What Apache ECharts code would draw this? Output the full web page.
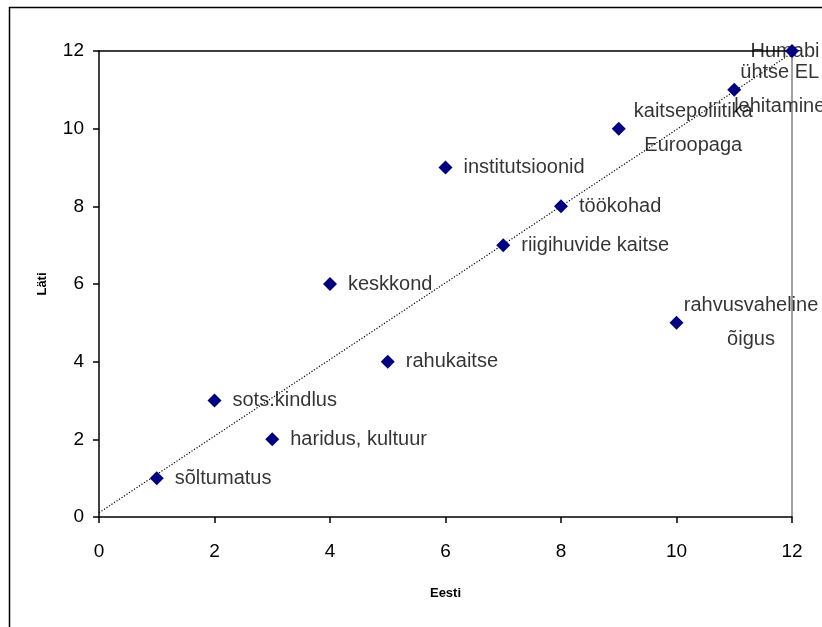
<!DOCTYPE html>
<html>
<head>
<meta charset="utf-8">
<script src="https://cdn.jsdelivr.net/npm/echarts@6/dist/echarts.min.js"></script>
<style>
html,body{margin:0;padding:0;background:#fff;}
#c{width:822px;height:627px;}
</style>
</head>
<body>
<div id="c"></div>
<script>
// ---- data ----
const categories = ['sõltumatus','sots.kindlus','haridus, kultuur','keskkond','rahukaitse','institutsioonid','riigihuvide kaitse','töökohad','kaitsepoliitika\nEuroopaga','rahvusvaheline\nõigus','ühtse EL\nlehitamine','Humabi'];
const eesti = [1,2,3,4,5,6,7,8,9,10,11,12];
const lati  = [1,3,2,6,4,9,7,8,10,5,11,12];
const trendX = [0,12];
const trendY = [0.11,11.95];
const xAxisTitle = 'Eesti';
const yAxisTitle = 'Läti';

// ---- styles (label placement per point) ----
const FONT = "'Liberation Sans', Arial, sans-serif";
const specialLabelPos = {
  8: [81.5, 7],
  9: [81.5, 7],
  10: [52.5, 7],
  11: [0, 7]
};

const labelData = eesti.map((x, i) => {
  const d = { value: [x, lati[i]], name: categories[i] };
  if (specialLabelPos[i]) {
    d.label = { position: specialLabelPos[i], align: 'center', verticalAlign: 'middle' };
  }
  return d;
});
const markerData = eesti.map((x, i) => [x, lati[i]]);
const trendData = trendX.map((x, i) => [x, trendY[i]]);

const chart = echarts.init(document.getElementById('c'), null, { renderer: 'canvas' });
chart.setOption({
  animation: false,
  backgroundColor: '#fff',
  grid: { left: 99, right: 30, top: 51, bottom: 110, containLabel: false },
  graphic: [{
    type: 'rect', silent: true, z: 0,
    shape: { x: 9.5, y: 7.5, width: 1000, height: 1000 },
    style: { fill: 'none', stroke: '#000', lineWidth: 1.5 }
  }],
  xAxis: [{
    type: 'value', min: 0, max: 12, interval: 2,
    name: xAxisTitle, nameLocation: 'middle', nameGap: 70,
    nameTextStyle: { fontFamily: FONT, fontSize: 13, fontWeight: 'bold', color: '#000' },
    axisLine: { show: true, onZero: false, lineStyle: { color: '#000', width: 1.5 } },
    axisTick: { show: true, inside: false, length: 6, lineStyle: { color: '#000', width: 1.5 } },
    axisLabel: { margin: 25, fontFamily: FONT, fontSize: 19, color: '#000' },
    splitLine: { show: false }
  }, {
    type: 'value', min: 0, max: 12, position: 'top',
    axisLine: { show: true, onZero: false, lineStyle: { color: '#000', width: 1.5 } },
    axisTick: { show: false }, axisLabel: { show: false }, splitLine: { show: false }
  }],
  yAxis: [{
    type: 'value', min: 0, max: 12, interval: 2,
    name: yAxisTitle, nameLocation: 'middle', nameGap: 50, nameRotate: 90,
    nameTextStyle: { fontFamily: FONT, fontSize: 13, fontWeight: 'bold', color: '#000' },
    axisLine: { show: true, onZero: false, lineStyle: { color: '#000', width: 1.5 } },
    axisTick: { show: true, inside: false, length: 6, lineStyle: { color: '#000', width: 1.5 } },
    axisLabel: { margin: 15, fontFamily: FONT, fontSize: 19, color: '#000' },
    splitLine: { show: false }
  }, {
    type: 'value', min: 0, max: 12, position: 'right',
    axisLine: { show: true, onZero: false, lineStyle: { color: '#808080', width: 1.5 } },
    axisTick: { show: false }, axisLabel: { show: false }, splitLine: { show: false }
  }],
  series: [{
    type: 'line', data: trendData, showSymbol: false, silent: true, z: 1,
    lineStyle: { color: '#000', width: 1.2, type: [1.2, 1.8] }
  }, {
    type: 'scatter', data: labelData, symbol: 'diamond', symbolSize: 14, z: 2, silent: true,
    itemStyle: { color: 'rgba(0,0,0,0)' },
    label: {
      show: true, position: 'right', distance: 11,
      formatter: p => p.name,
      fontFamily: FONT, fontSize: 20, color: '#000', lineHeight: 34
    },
    labelLayout: { hideOverlap: false }
  }, {
    type: 'scatter', data: markerData, symbol: 'diamond', symbolSize: 14, z: 3, silent: true,
    itemStyle: { color: '#000080', opacity: 1 }
  }]
});
</script>
</body>
</html>
